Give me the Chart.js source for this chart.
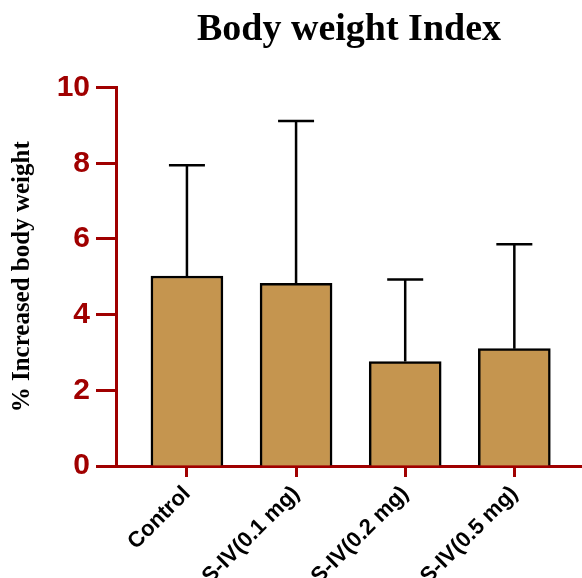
<!DOCTYPE html>
<html>
<head>
<meta charset="utf-8">
<script src="https://cdn.jsdelivr.net/npm/chart.js@4.4.1/dist/chart.umd.min.js"></script>
<style>
  html, body { margin: 0; padding: 0; background: #fff; }
  #wrap { width: 582px; height: 578px; }
</style>
</head>
<body>
<div id="wrap"><canvas id="myChart" width="582" height="578"></canvas></div>
<script>
const groups = ['Control', 'S-IV(0.1 mg)', 'S-IV(0.2 mg)', 'S-IV(0.5 mg)'];
const means = [5.02, 4.83, 2.76, 3.10];
const errors = [2.93, 4.29, 2.17, 2.76];
const yTicks = [0, 2, 4, 6, 8, 10];

const axisRed = '#a00000';
const barFill = '#c5954f';

// upward-only error bars with caps
const errorBars = {
  id: 'errorBars',
  afterDatasetsDraw(chart) {
    const { ctx, scales: { x, y } } = chart;
    ctx.save();
    ctx.strokeStyle = '#000';
    ctx.lineWidth = 2.5;
    means.forEach((m, i) => {
      const cx = x.getPixelForValue(i);
      const y0 = y.getPixelForValue(m);
      const y1 = y.getPixelForValue(m + errors[i]);
      ctx.beginPath();
      ctx.moveTo(cx, y0);
      ctx.lineTo(cx, y1);
      ctx.moveTo(cx - 18, y1);
      ctx.lineTo(cx + 18, y1);
      ctx.stroke();
    });
    ctx.restore();
  }
};

const data = {
  datasets: [{
    label: 'Body weight',
    data: means.map((v, i) => ({ x: i, y: v })),
    backgroundColor: barFill,
    borderColor: '#000',
    borderWidth: 2.5,
    barThickness: 72
  }]
};

const config = {
  type: 'bar',
  data,
  options: {
    responsive: false,
    animation: false,
    layout: { padding: { left: 0, right: 0, top: 0, bottom: 0 } },
    plugins: {
      legend: { display: false },
      tooltip: { enabled: false },
      title: {
        display: true,
        fullSize: false,
        text: 'Body weight Index',
        color: '#000',
        font: { family: 'Liberation Serif', weight: 'bold', size: 38 },
        padding: { top: 7, bottom: 35 }
      }
    },
    scales: {
      x: {
        type: 'linear',
        min: -0.65,
        max: 3.62,
        offset: false,
        border: { display: true, color: axisRed, width: 3 },
        grid: {
          offset: false,
          drawOnChartArea: false,
          drawTicks: true,
          tickLength: 11,
          tickWidth: 3,
          tickColor: axisRed
        },
        ticks: {
          stepSize: 1,
          includeBounds: false,
          autoSkip: false,
          minRotation: 45,
          maxRotation: 45,
          padding: 4,
          color: '#000',
          font: { family: 'Liberation Sans', weight: 'bold', size: 22 },
          callback: (v) => groups[v] !== undefined ? groups[v] : ''
        },
        afterFit: (scale) => { scale.height = 112; }
      },
      y: {
        min: 0,
        max: 10,
        border: { display: true, color: axisRed, width: 3 },
        grid: {
          drawOnChartArea: false,
          drawTicks: true,
          tickLength: 20,
          tickWidth: 3,
          tickColor: axisRed
        },
        afterBuildTicks: (scale) => { scale.ticks = yTicks.map(v => ({ value: v })); },
        ticks: {
          padding: 6,
          color: axisRed,
          font: { family: 'Liberation Sans', weight: 'bold', size: 30 }
        },
        title: {
          display: true,
          text: '% Increased body weight',
          color: '#000',
          font: { family: 'Liberation Serif', weight: 'bold', size: 25 },
          padding: { top: 8, bottom: 0 }
        },
        afterFit: (scale) => { scale.width = 116; }
      }
    }
  },
  plugins: [errorBars]
};

const myChart = new Chart(document.getElementById('myChart'), config);
</script>
</body>
</html>
